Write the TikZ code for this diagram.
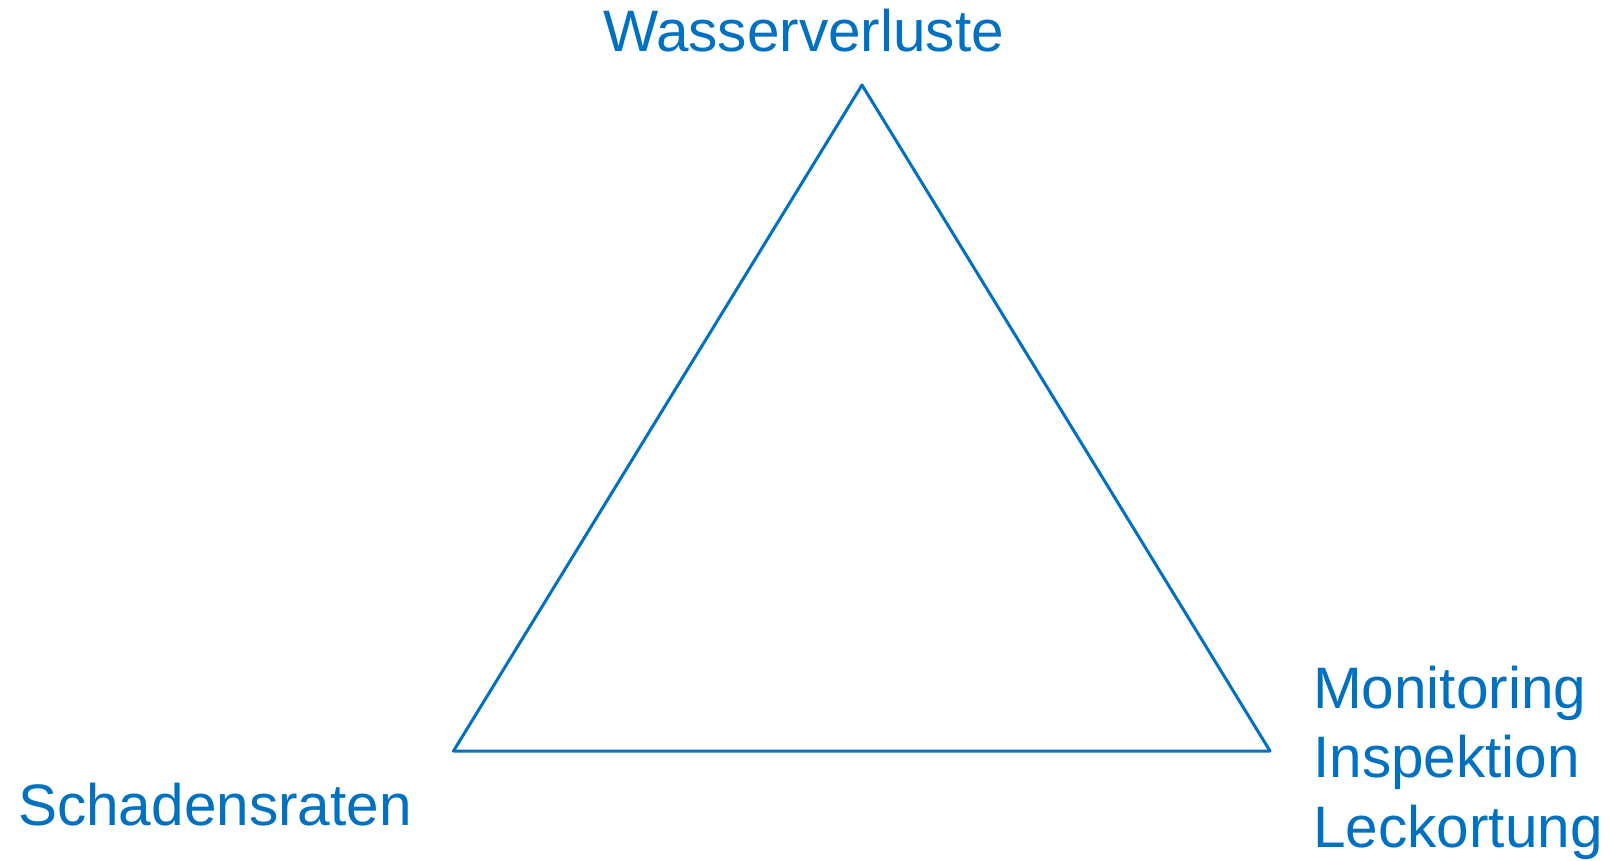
\documentclass[tikz,border=0pt]{standalone}
\usepackage{fontspec}
\setmainfont{Liberation Sans}
\usepackage{xcolor}
\usetikzlibrary{positioning}
\definecolor{wasserblau}{HTML}{0070C0}

\begin{document}
\begin{tikzpicture}[
    x=1pt, y=-1pt,
    font=\fontsize{58.5}{70}\selectfont,
    label/.style={
        text=wasserblau,
        inner sep=0pt
    },
    kante/.style={draw=wasserblau, line width=3pt, line join=round}
]
\useasboundingbox (0,0) rectangle (1609,861);

% Ecken des Dreiecks
\coordinate (oben) at (862,85);
\coordinate (links) at (453.5,751);
\coordinate (rechts) at (1270,751);

\draw[kante] (links) -- (oben) -- (rechts) -- cycle;

\node[label, anchor=base] (verluste) at (803.5,52) {Wasserverluste};
\node[label, anchor=base west] (schaden) at (18,825) {Schadensraten};

\node[label, anchor=base west] (monitoring) at (1313,708) {Monitoring};
\node[label, anchor=base west] (inspektion) at (1313,777) {Inspektion};
\node[label, anchor=base west] (leckortung) at (1313,847) {Leckortung};

\end{tikzpicture}
\end{document}
